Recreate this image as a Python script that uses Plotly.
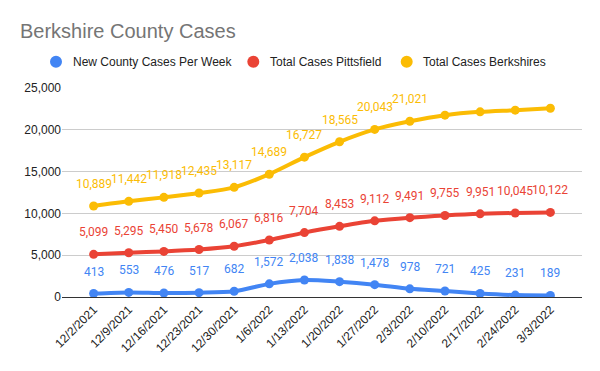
import plotly.graph_objects as go

dates = ["12/2/2021", "12/9/2021", "12/16/2021", "12/23/2021", "12/30/2021",
         "1/6/2022", "1/13/2022", "1/20/2022", "1/27/2022", "2/3/2022",
         "2/10/2022", "2/17/2022", "2/24/2022", "3/3/2022"]
new_county = [413, 553, 476, 517, 682, 1572, 2038, 1838, 1478, 978, 721, 425, 231, 189]
pittsfield = [5099, 5295, 5450, 5678, 6067, 6816, 7704, 8453, 9112, 9491, 9755, 9951, 10045, 10122]
berkshires = [10889, 11442, 11918, 12435, 13117, 14689, 16727, 18565, 20043, 21021,
              21750, 22150, 22350, 22580]
berk_labeled = 10  # number of points with data labels on the Berkshires series

series_names = ["New County Cases Per Week", "Total Cases Pittsfield", "Total Cases Berkshires"]
series_values = [new_county, pittsfield, berkshires]
series_colors = ["#4285F4", "#EA4335", "#FBBC04"]
series_nlabels = [len(new_county), len(pittsfield), berk_labeled]

# plot area in pixels (for legend placement in paper coordinates)
PL, PR, PT, PB = 62, 582, 88, 297
W, H = 600, 371
def px_to_paper_x(px):
    return (px - PL) / (PR - PL)
def px_to_paper_y(py):
    return (PB - py) / (PB - PT)

legend_dot_px = [56, 253.3, 406.7]
legend_text_px = [70.7, 268.3, 420.7]
legend_y_px = 61.7

fig = go.Figure()
annotations = []
shapes = []
for name, vals, color, nlab, dx, tx in zip(series_names, series_values, series_colors,
                                           series_nlabels, legend_dot_px, legend_text_px):
    fig.add_trace(go.Scatter(
        x=dates, y=vals, name=name, mode="lines+markers", showlegend=False,
        line=dict(color=color, width=4, shape="spline", smoothing=0.8),
        marker=dict(color=color, size=9), hoverinfo="skip",
    ))
    for d, v in list(zip(dates, vals))[:nlab]:
        annotations.append(dict(
            x=d, y=v, text=f"{v:,}", showarrow=False, yshift=22,
            font=dict(family="Roboto", size=12, color=color),
        ))
    # legend entry: circle + text
    shapes.append(dict(
        type="circle", xref="paper", yref="paper",
        xsizemode="pixel", ysizemode="pixel",
        xanchor=px_to_paper_x(dx), yanchor=px_to_paper_y(legend_y_px),
        x0=-6, x1=6, y0=-6, y1=6,
        fillcolor=color, line=dict(width=0),
    ))
    annotations.append(dict(
        xref="paper", yref="paper", x=px_to_paper_x(tx), y=px_to_paper_y(legend_y_px),
        xanchor="left", yanchor="middle", text=name, showarrow=False,
        font=dict(family="Liberation Sans", size=12, color="#222222"),
    ))

fig.update_layout(
    width=W, height=H,
    margin=dict(l=PL, r=W - PR, t=PT, b=H - PB, autoexpand=False),
    paper_bgcolor="white", plot_bgcolor="white",
    showlegend=False,
    title=dict(text="Berkshire County Cases", x=20/600, xanchor="left",
               xref="container", y=1-31/371, yanchor="middle", yref="container",
               font=dict(family="Liberation Sans", size=20, color="#757575")),
    annotations=annotations,
    shapes=shapes,
    font=dict(family="Liberation Sans", color="#444444"),
)
fig.update_xaxes(type="category", showgrid=False, tickangle=-45, automargin=False,
                 tickfont=dict(family="Liberation Sans", size=12, color="#222222"),
                 showline=True, linecolor="#333333", linewidth=1, ticks="")
fig.update_yaxes(range=[0, 25000], dtick=5000, tickformat=",d", automargin=False,
                 gridcolor="#cccccc", zeroline=False,
                 tickfont=dict(family="Liberation Sans", size=12, color="#222222"))

fig.write_html("out.html", config={"displayModeBar": False},
               post_script="document.body.style.margin='0';document.body.style.overflow='hidden';")
